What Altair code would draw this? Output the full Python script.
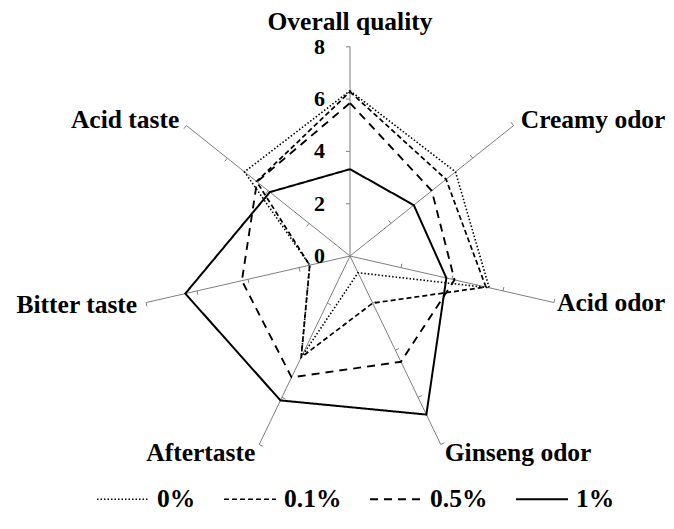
import altair as alt
import pandas as pd

# ---- data ----
categories = ["Overall quality", "Creamy odor", "Acid odor", "Ginseng odor",
              "Aftertaste", "Bitter taste", "Acid taste"]
series_names = ["0%", "0.1%", "0.5%", "1%"]
v_0 = [6.32, 5.16, 5.46, 0.71, 4.30, 1.58, 5.16]
v_01 = [6.28, 4.70, 5.33, 2.00, 4.30, 1.58, 4.57]
v_05 = [5.85, 4.00, 4.10, 4.49, 5.15, 4.24, 4.55]
v_1 = [3.32, 3.12, 3.78, 6.73, 6.13, 6.46, 3.92]
tick_values = [0, 2, 4, 6, 8]
r_max = 8

# ---- layout constants ----
W, H = 658, 513
CX, CY = 342, 248        # centre of the radar in view pixels
S = 26.15                # pixels per unit
TICK_LEN = 4 / S
FONT = "Liberation Serif"
N = len(categories)

x_scale = alt.Scale(domain=[-CX / S, (W - CX) / S], nice=False, zero=False)
y_scale = alt.Scale(domain=[(CY - H) / S, CY / S], nice=False, zero=False)

# polygon rows (closed: first category repeated at the end)
rows = []
for name, vals in zip(series_names, [v_0, v_01, v_05, v_1]):
    for i in range(N + 1):
        rows.append({"series": name, "idx": i, "category": categories[i % N],
                     "value": vals[i % N]})
lines_df = pd.DataFrame(rows)

spokes_df = pd.DataFrame({"category": categories, "idx": list(range(N))})

tick_rows = []
for i, c in enumerate(categories):
    for t in tick_values:
        if t > 0:
            tick_rows.append({"category": c, "idx": i, "t": t})
ticks_df = pd.DataFrame(tick_rows)

labels_df = pd.DataFrame({"v": tick_values})

ANG = "PI/2 - datum.idx*2*PI/" + str(N)

lines = alt.Chart(lines_df).transform_calculate(
    ang=ANG
).transform_calculate(
    x="datum.value*cos(datum.ang)", y="datum.value*sin(datum.ang)"
).mark_line(color="black").encode(
    x=alt.X("x:Q", scale=x_scale, axis=None),
    y=alt.Y("y:Q", scale=y_scale, axis=None),
    order=alt.Order("idx:Q"),
    strokeDash=alt.StrokeDash(
        "series:N",
        scale=alt.Scale(domain=series_names,
                        range=[[1.5, 2], [5, 3], [8, 6], [1, 0]]),
        legend=alt.Legend(title=None),
    ),
    strokeWidth=alt.StrokeWidth(
        "series:N",
        scale=alt.Scale(domain=series_names, range=[1.6, 2, 2, 2]),
        legend=None,
    ),
)

spokes = alt.Chart(spokes_df).transform_calculate(
    ang=ANG
).transform_calculate(
    z="0", ex=str(r_max) + "*cos(datum.ang)", ey=str(r_max) + "*sin(datum.ang)"
).mark_rule(color="#7f7f7f", strokeWidth=1).encode(
    x=alt.X("z:Q", scale=x_scale, axis=None),
    y=alt.Y("z:Q", scale=y_scale, axis=None),
    x2="ex:Q",
    y2="ey:Q",
)

ticks = alt.Chart(ticks_df).transform_calculate(
    ang=ANG
).transform_calculate(
    x1="datum.t*cos(datum.ang)", y1="datum.t*sin(datum.ang)"
).transform_calculate(
    x2="datum.x1 - " + str(TICK_LEN) + "*sin(datum.ang)",
    y2="datum.y1 + " + str(TICK_LEN) + "*cos(datum.ang)",
).mark_rule(color="#7f7f7f", strokeWidth=1).encode(
    x=alt.X("x1:Q", scale=x_scale, axis=None),
    y=alt.Y("y1:Q", scale=y_scale, axis=None),
    x2="x2:Q",
    y2="y2:Q",
)

tick_labels = alt.Chart(labels_df).transform_calculate(
    z="0"
).mark_text(
    font=FONT, fontSize=22, fontWeight="bold", color="black",
    align="right", baseline="middle", dx=-25
).encode(
    x=alt.X("z:Q", scale=x_scale, axis=None),
    y=alt.Y("v:Q", scale=y_scale, axis=None),
    text=alt.Text("v:Q"),
)

LAB_R = 8.35
CAT_SIZE = 25.5


def cat_text(filter_expr, align, baseline="middle", dy=0, r=LAB_R):
    return alt.Chart(spokes_df).transform_filter(filter_expr).transform_calculate(
        ang=ANG
    ).transform_calculate(
        lx=str(r) + "*cos(datum.ang)", ly=str(r) + "*sin(datum.ang)"
    ).mark_text(
        font=FONT, fontSize=CAT_SIZE, fontWeight="bold", color="black",
        align=align, baseline=baseline, dy=dy
    ).encode(
        x=alt.X("lx:Q", scale=x_scale, axis=None),
        y=alt.Y("ly:Q", scale=y_scale, axis=None),
        text="category:N",
    )


lab_top = cat_text("datum.idx == 0", "center", baseline="alphabetic", dy=-17, r=8)
lab_right = cat_text("datum.idx == 1 || datum.idx == 3", "left")
lab_acid_odor = cat_text("datum.idx == 2", "left", r=8.12)
lab_left = cat_text("datum.idx >= 4", "right")

chart = alt.layer(
    spokes, ticks, lines, tick_labels, lab_top, lab_right, lab_acid_odor,
    lab_left
).properties(
    width=W, height=H, autosize=alt.AutoSizeParams(type="none"), padding=0
).configure_view(
    stroke=None
).configure_legend(
    orient="none", legendX=88, legendY=464, direction="horizontal",
    columns=4, symbolType="stroke", symbolSize=2704, symbolStrokeWidth=2,
    symbolStrokeColor="black", labelFont=FONT, labelFontSize=CAT_SIZE,
    labelFontWeight="bold", labelColor="black", columnPadding=24,
    labelOffset=7, labelLimit=200,
)

chart.save("out.html", embed_options={"renderer": "svg", "actions": False})
